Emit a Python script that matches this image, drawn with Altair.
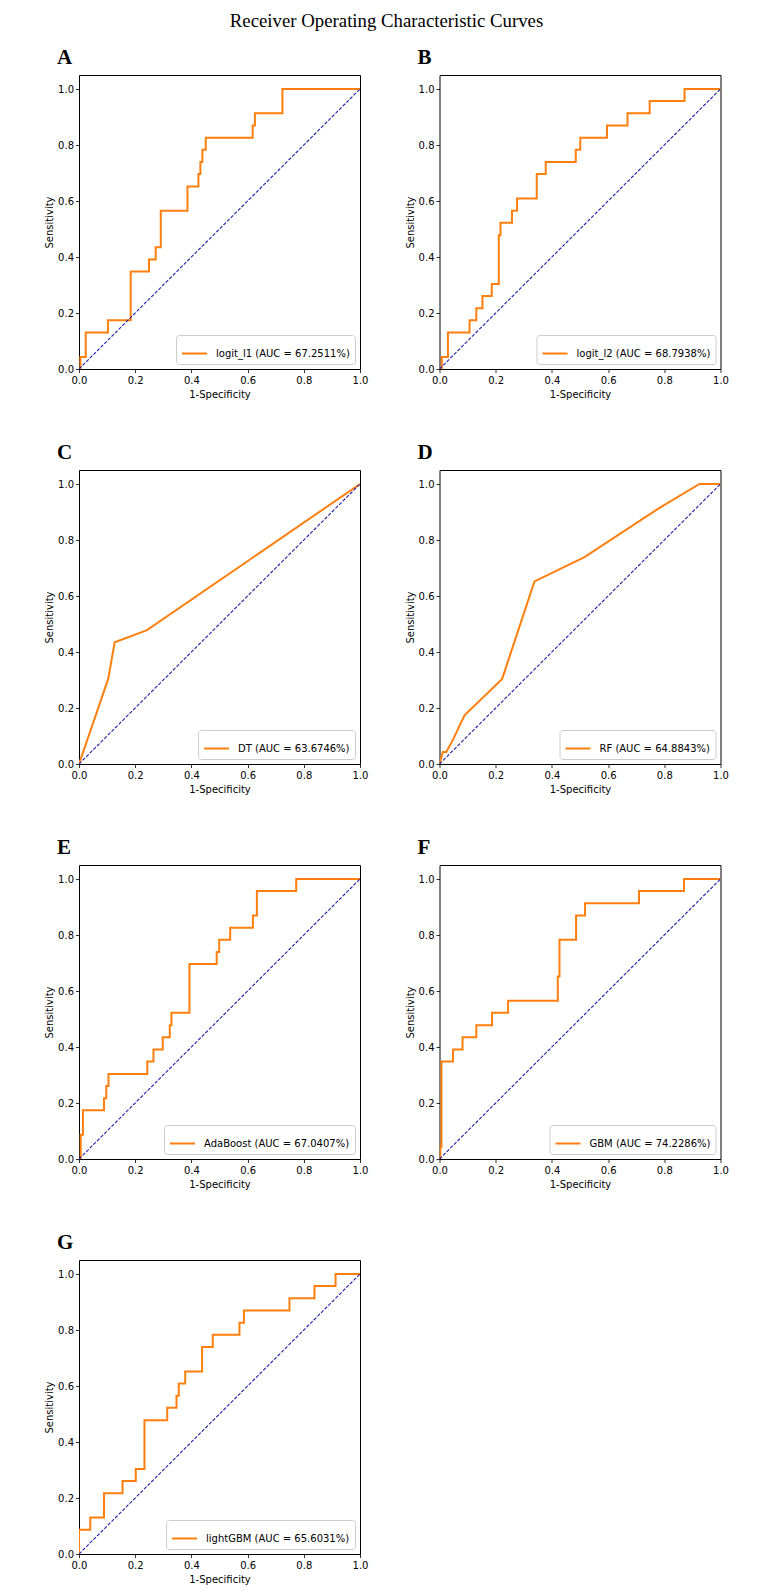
import altair as alt
import pandas as pd

TITLE = "Receiver Operating Characteristic Curves"
LETTERS = ["A", "B", "C", "D", "E", "F", "G"]
MODELS = ["logit_l1", "logit_l2", "DT", "RF", "AdaBoost", "GBM", "lightGBM"]
AUCS = ["67.2511", "68.7938", "63.6746", "64.8843", "67.0407", "74.2286", "65.6031"]

TICKS = [0.0, 0.2, 0.4, 0.6, 0.8, 1.0]
CHANCE = [0.0, 1.0]

A_FPR = [0.0, 0.005, 0.005, 0.024, 0.024, 0.103, 0.103, 0.184, 0.184, 0.249, 0.249,
         0.273, 0.273, 0.291, 0.291, 0.386, 0.386, 0.425, 0.425, 0.432, 0.432, 0.439,
         0.439, 0.451, 0.451, 0.618, 0.618, 0.626, 0.626, 0.724, 0.724, 1.0]
A_TPR = [0.0, 0.0, 0.043, 0.043, 0.130, 0.130, 0.174, 0.174, 0.348, 0.348, 0.391,
         0.391, 0.435, 0.435, 0.565, 0.565, 0.652, 0.652, 0.696, 0.696, 0.739, 0.739,
         0.783, 0.783, 0.826, 0.826, 0.870, 0.870, 0.913, 0.913, 1.0, 1.0]

B_FPR = [0.0, 0.008, 0.008, 0.030, 0.030, 0.107, 0.107, 0.131, 0.131, 0.153, 0.153,
         0.186, 0.186, 0.211, 0.211, 0.217, 0.217, 0.258, 0.258, 0.276, 0.276, 0.346,
         0.346, 0.378, 0.378, 0.485, 0.485, 0.501, 0.501, 0.596, 0.596, 0.669, 0.669,
         0.748, 0.748, 0.872, 0.872, 1.0]
B_TPR = [0.0, 0.0, 0.043, 0.043, 0.130, 0.130, 0.174, 0.174, 0.217, 0.217, 0.261,
         0.261, 0.304, 0.304, 0.478, 0.478, 0.522, 0.522, 0.565, 0.565, 0.609, 0.609,
         0.696, 0.696, 0.739, 0.739, 0.783, 0.783, 0.826, 0.826, 0.870, 0.870, 0.913,
         0.913, 0.957, 0.957, 1.0, 1.0]

C_FPR = [0.0, 0.104, 0.127, 0.242, 1.0]
C_TPR = [0.0, 0.304, 0.435, 0.478, 1.0]

D_FPR = [0.0, 0.012, 0.024, 0.048, 0.089, 0.223, 0.338, 0.516, 0.780, 0.925, 1.0]
D_TPR = [0.0, 0.043, 0.043, 0.087, 0.174, 0.304, 0.652, 0.739, 0.913, 1.0, 1.0]

E_FPR = [0.0, 0.006, 0.006, 0.014, 0.014, 0.089, 0.089, 0.097, 0.097, 0.105, 0.105,
         0.243, 0.243, 0.265, 0.265, 0.298, 0.298, 0.323, 0.323, 0.329, 0.329, 0.393,
         0.393, 0.490, 0.490, 0.499, 0.499, 0.538, 0.538, 0.619, 0.619, 0.633, 0.633,
         0.773, 0.773, 1.0]
E_TPR = [0.0, 0.0, 0.087, 0.087, 0.174, 0.174, 0.217, 0.217, 0.261, 0.261, 0.304,
         0.304, 0.348, 0.348, 0.391, 0.391, 0.435, 0.435, 0.478, 0.478, 0.522, 0.522,
         0.696, 0.696, 0.739, 0.739, 0.783, 0.783, 0.826, 0.826, 0.870, 0.870, 0.957,
         0.957, 1.0, 1.0]

F_FPR = [0.0, 0.003, 0.003, 0.007, 0.007, 0.048, 0.048, 0.082, 0.082, 0.131, 0.131,
         0.187, 0.187, 0.244, 0.244, 0.421, 0.421, 0.427, 0.427, 0.486, 0.486, 0.518,
         0.518, 0.710, 0.710, 0.870, 0.870, 1.0]
F_TPR = [0.0, 0.0, 0.043, 0.043, 0.348, 0.348, 0.391, 0.391, 0.435, 0.435, 0.478,
         0.478, 0.522, 0.522, 0.565, 0.565, 0.652, 0.652, 0.783, 0.783, 0.870, 0.870,
         0.913, 0.913, 0.957, 0.957, 1.0, 1.0]

G_FPR = [0.0, 0.0, 0.040, 0.040, 0.089, 0.089, 0.155, 0.155, 0.202, 0.202, 0.233,
         0.233, 0.314, 0.314, 0.347, 0.347, 0.355, 0.355, 0.378, 0.378, 0.438, 0.438,
         0.476, 0.476, 0.571, 0.571, 0.587, 0.587, 0.749, 0.749, 0.838, 0.838, 0.913,
         0.913, 1.0]
G_TPR = [0.0, 0.087, 0.087, 0.130, 0.130, 0.217, 0.217, 0.261, 0.261, 0.304, 0.304,
         0.478, 0.478, 0.522, 0.522, 0.565, 0.565, 0.609, 0.609, 0.652, 0.652, 0.739,
         0.739, 0.783, 0.783, 0.826, 0.826, 0.870, 0.870, 0.913, 0.913, 0.957, 0.957,
         1.0, 1.0]

FPRS = [A_FPR, B_FPR, C_FPR, D_FPR, E_FPR, F_FPR, G_FPR]
TPRS = [A_TPR, B_TPR, C_TPR, D_TPR, E_TPR, F_TPR, G_TPR]

ORANGE = "#ff7f0e"
NAVY = "#2020a8"
FONT = "DejaVu Sans"
SERIF = "Liberation Serif"
W, H = 281, 294


def panel(letter, model, auc, fpr, tpr):
    label = f"{model} (AUC = {auc}%)"
    df = pd.DataFrame({"fpr": fpr, "tpr": tpr, "idx": list(range(len(fpr))), "label": label})
    diag = pd.DataFrame({"fpr": CHANCE, "tpr": CHANCE})
    x = alt.X("fpr:Q", scale=alt.Scale(domain=[0, 1], nice=False, zero=False),
              axis=alt.Axis(values=TICKS, format=".1f", title="1-Specificity",
                            labelFlush=False, labelPadding=3, titlePadding=4))
    y = alt.Y("tpr:Q", scale=alt.Scale(domain=[0, 1.05], nice=False, zero=False),
              axis=alt.Axis(values=TICKS, format=".1f", title="Sensitivity",
                            labelFlush=False))
    roc = alt.Chart(df).mark_line(strokeWidth=2, clip=True).encode(
        x=x, y=y, order=alt.Order("idx:Q"),
        color=alt.Color("label:N", scale=alt.Scale(domain=[label], range=[ORANGE]),
                        title=None,
                        legend=alt.Legend(orient="bottom-right", offset=5)))
    chance = alt.Chart(diag).mark_line(color=NAVY, strokeWidth=1.1, strokeDash=[3.5, 1.6],
                                       clip=True).encode(x=x, y=y)
    return alt.layer(roc, chance).properties(
        width=W, height=H,
        title=alt.TitleParams(text=letter, font=SERIF, fontSize=21, fontWeight="bold",
                              color="black", anchor="start", frame="group", dx=-22,
                              offset=7))


panels = [panel(LETTERS[i], MODELS[i], AUCS[i], FPRS[i], TPRS[i]) for i in range(7)]

chart = alt.concat(
    *panels, columns=2, spacing={"row": 101, "column": 79.5}, bounds="flush"
).resolve_scale(color="independent").properties(
    title=alt.TitleParams(text=TITLE, font=SERIF, fontSize=18.8, fontWeight="normal",
                          color="black", anchor="middle", offset=16),
    padding={"left": 36, "top": 3, "right": 5, "bottom": 0},
).configure_view(stroke="black", strokeWidth=1).configure_axis(
    grid=False, domain=False, labelFont=FONT, labelFontSize=10, labelColor="black",
    titleFont=FONT, titleFontSize=10, titleFontWeight="normal", titleColor="black",
    tickColor="black", tickSize=3.5, tickWidth=0.8, labelPadding=2, titlePadding=3,
).configure_legend(
    labelFont=FONT, labelFontSize=10, labelColor="black", symbolType="stroke",
    symbolSize=625, symbolStrokeWidth=2, strokeColor="#cccccc", fillColor="white",
    padding=5, cornerRadius=3, labelOffset=8, labelLimit=300,
)

chart.save("out.html", embed_options={"renderer": "svg", "actions": False})
